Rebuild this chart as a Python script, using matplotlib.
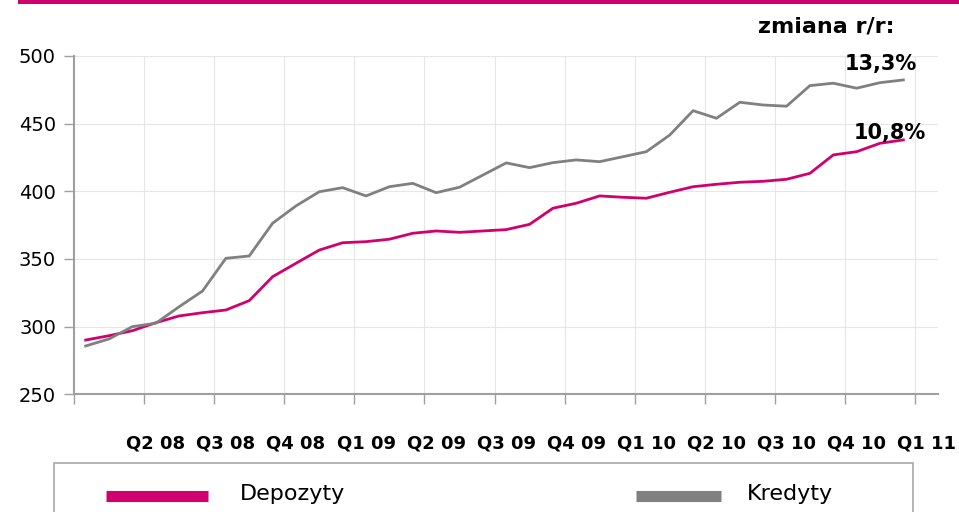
import matplotlib
matplotlib.use("Agg")
import matplotlib.pyplot as plt
from matplotlib.lines import Line2D
from matplotlib.patches import Rectangle

# Monthly balances (bn PLN), Jan 2008 onward
depozyty = [290.1, 293.3, 297.0, 302.9, 307.9, 310.3, 312.3, 319.2, 336.9, 346.8,
            356.6, 362.0, 362.8, 364.6, 369.0, 370.7, 369.7, 370.7, 371.7, 375.6,
            387.5, 391.2, 396.6, 395.6, 394.9, 399.3, 403.4, 405.2, 406.7, 407.4,
            408.9, 413.3, 426.9, 429.3, 435.5, 438.0]
kredyty = [285.7, 290.9, 300.0, 302.5, 314.7, 326.3, 350.5, 352.2, 376.4, 389.2,
           399.7, 402.7, 396.6, 403.4, 405.9, 399.0, 403.0, 412.0, 421.0, 417.5,
           421.2, 423.2, 421.9, 425.6, 429.3, 441.6, 459.6, 454.0, 465.8, 463.8,
           462.9, 478.1, 479.9, 476.2, 480.3, 482.3]
quarter_labels = ["Q2 08", "Q3 08", "Q4 08", "Q1 09", "Q2 09", "Q3 09", "Q4 09",
                  "Q1 10", "Q2 10", "Q3 10", "Q4 10", "Q1 11"]
series_names = ["Depozyty", "Kredyty"]
yoy_labels = ["10,8%", "13,3%"]
yoy_title = "zmiana r/r:"

PINK = "#D0006F"
GRAY = "#808080"
W, H = 959, 512

fig = plt.figure(figsize=(W / 100, H / 100), dpi=100)
plt.rcParams["font.family"] = ["DejaVu Sans"]

# top accent bar
fig.patches.append(Rectangle((18 / W, 1 - 3.5 / H), 1, 3.5 / H, transform=fig.transFigure,
                             facecolor=PINK, edgecolor="none", zorder=5))

ax = fig.add_axes([74 / W, (H - 394.3) / H, (938.4 - 74) / W, (394.3 - 56) / H])

n_cat = len(depozyty) + 1
x = list(range(len(depozyty)))
ln_dep, = ax.plot(x, depozyty, color=PINK, lw=2.0, solid_joinstyle="round", zorder=3)
ln_kre, = ax.plot(x, kredyty, color=GRAY, lw=2.0, solid_joinstyle="round", zorder=3)

ax.set_xlim(-0.5, n_cat - 0.5)
ax.set_ylim(250, 500)
ax.set_yticks(range(250, 501, 50))

# quarter boundaries carry tick marks and gridlines; labels sit on quarter categories
bounds = [i - 0.5 for i in range(0, n_cat, 3)]
ax.set_xticks(bounds)
ax.set_xticklabels([])
label_pos = [3 * (k + 1) for k in range(len(quarter_labels))]
ax.set_xticks(label_pos, minor=True)
ax.set_xticklabels(quarter_labels, minor=True, fontsize=13, fontweight="bold")
ax.tick_params(axis="x", which="minor", length=0, pad=29)
ax.tick_params(axis="x", which="major", length=7, width=1, color="#a0a0a0", direction="out")
ax.tick_params(axis="y", length=7, width=1, color="#a0a0a0", labelsize=14, pad=6)

ax.grid(True, which="major", color="#e6e6e6", lw=0.8, zorder=0)
for side in ("top", "right"):
    ax.spines[side].set_visible(False)
for side in ("left", "bottom"):
    ax.spines[side].set_color("#a0a0a0")
    ax.spines[side].set_linewidth(1.5)

# year-on-year annotations
fig.text(895 / W, 1 - 32 / H, yoy_title, ha="right", va="baseline",
         fontsize=16, fontweight="bold")
ax.annotate(yoy_labels[1], xy=(x[-1], kredyty[-1]), xytext=(-16, 7.2),
            textcoords="offset points", ha="center", va="baseline",
            fontsize=15, fontweight="bold")
ax.annotate(yoy_labels[0], xy=(x[-1], depozyty[-1]), xytext=(-9.4, 0.7),
            textcoords="offset points", ha="center", va="baseline",
            fontsize=15, fontweight="bold")

# legend panel
fig.patches.append(Rectangle((54 / W, -0.1), (913 - 54) / W, 1 - 463 / H + 0.1,
                             transform=fig.transFigure, facecolor="white",
                             edgecolor="#a8a8a8", lw=1.2))
legend_items = [(ln_dep, 106, 208, 240), (ln_kre, 636, 721, 747)]
for (line, x0, x1, tx), name in zip(legend_items, series_names):
    yc = 1 - 495.5 / H
    fig.add_artist(Line2D([x0 / W, x1 / W], [yc, yc], transform=fig.transFigure,
                          color=line.get_color(), lw=8, solid_capstyle="butt"))
    fig.text(tx / W, 1 - 500 / H, name, ha="left", va="baseline", fontsize=16)

fig.savefig("out.png", dpi=100)
